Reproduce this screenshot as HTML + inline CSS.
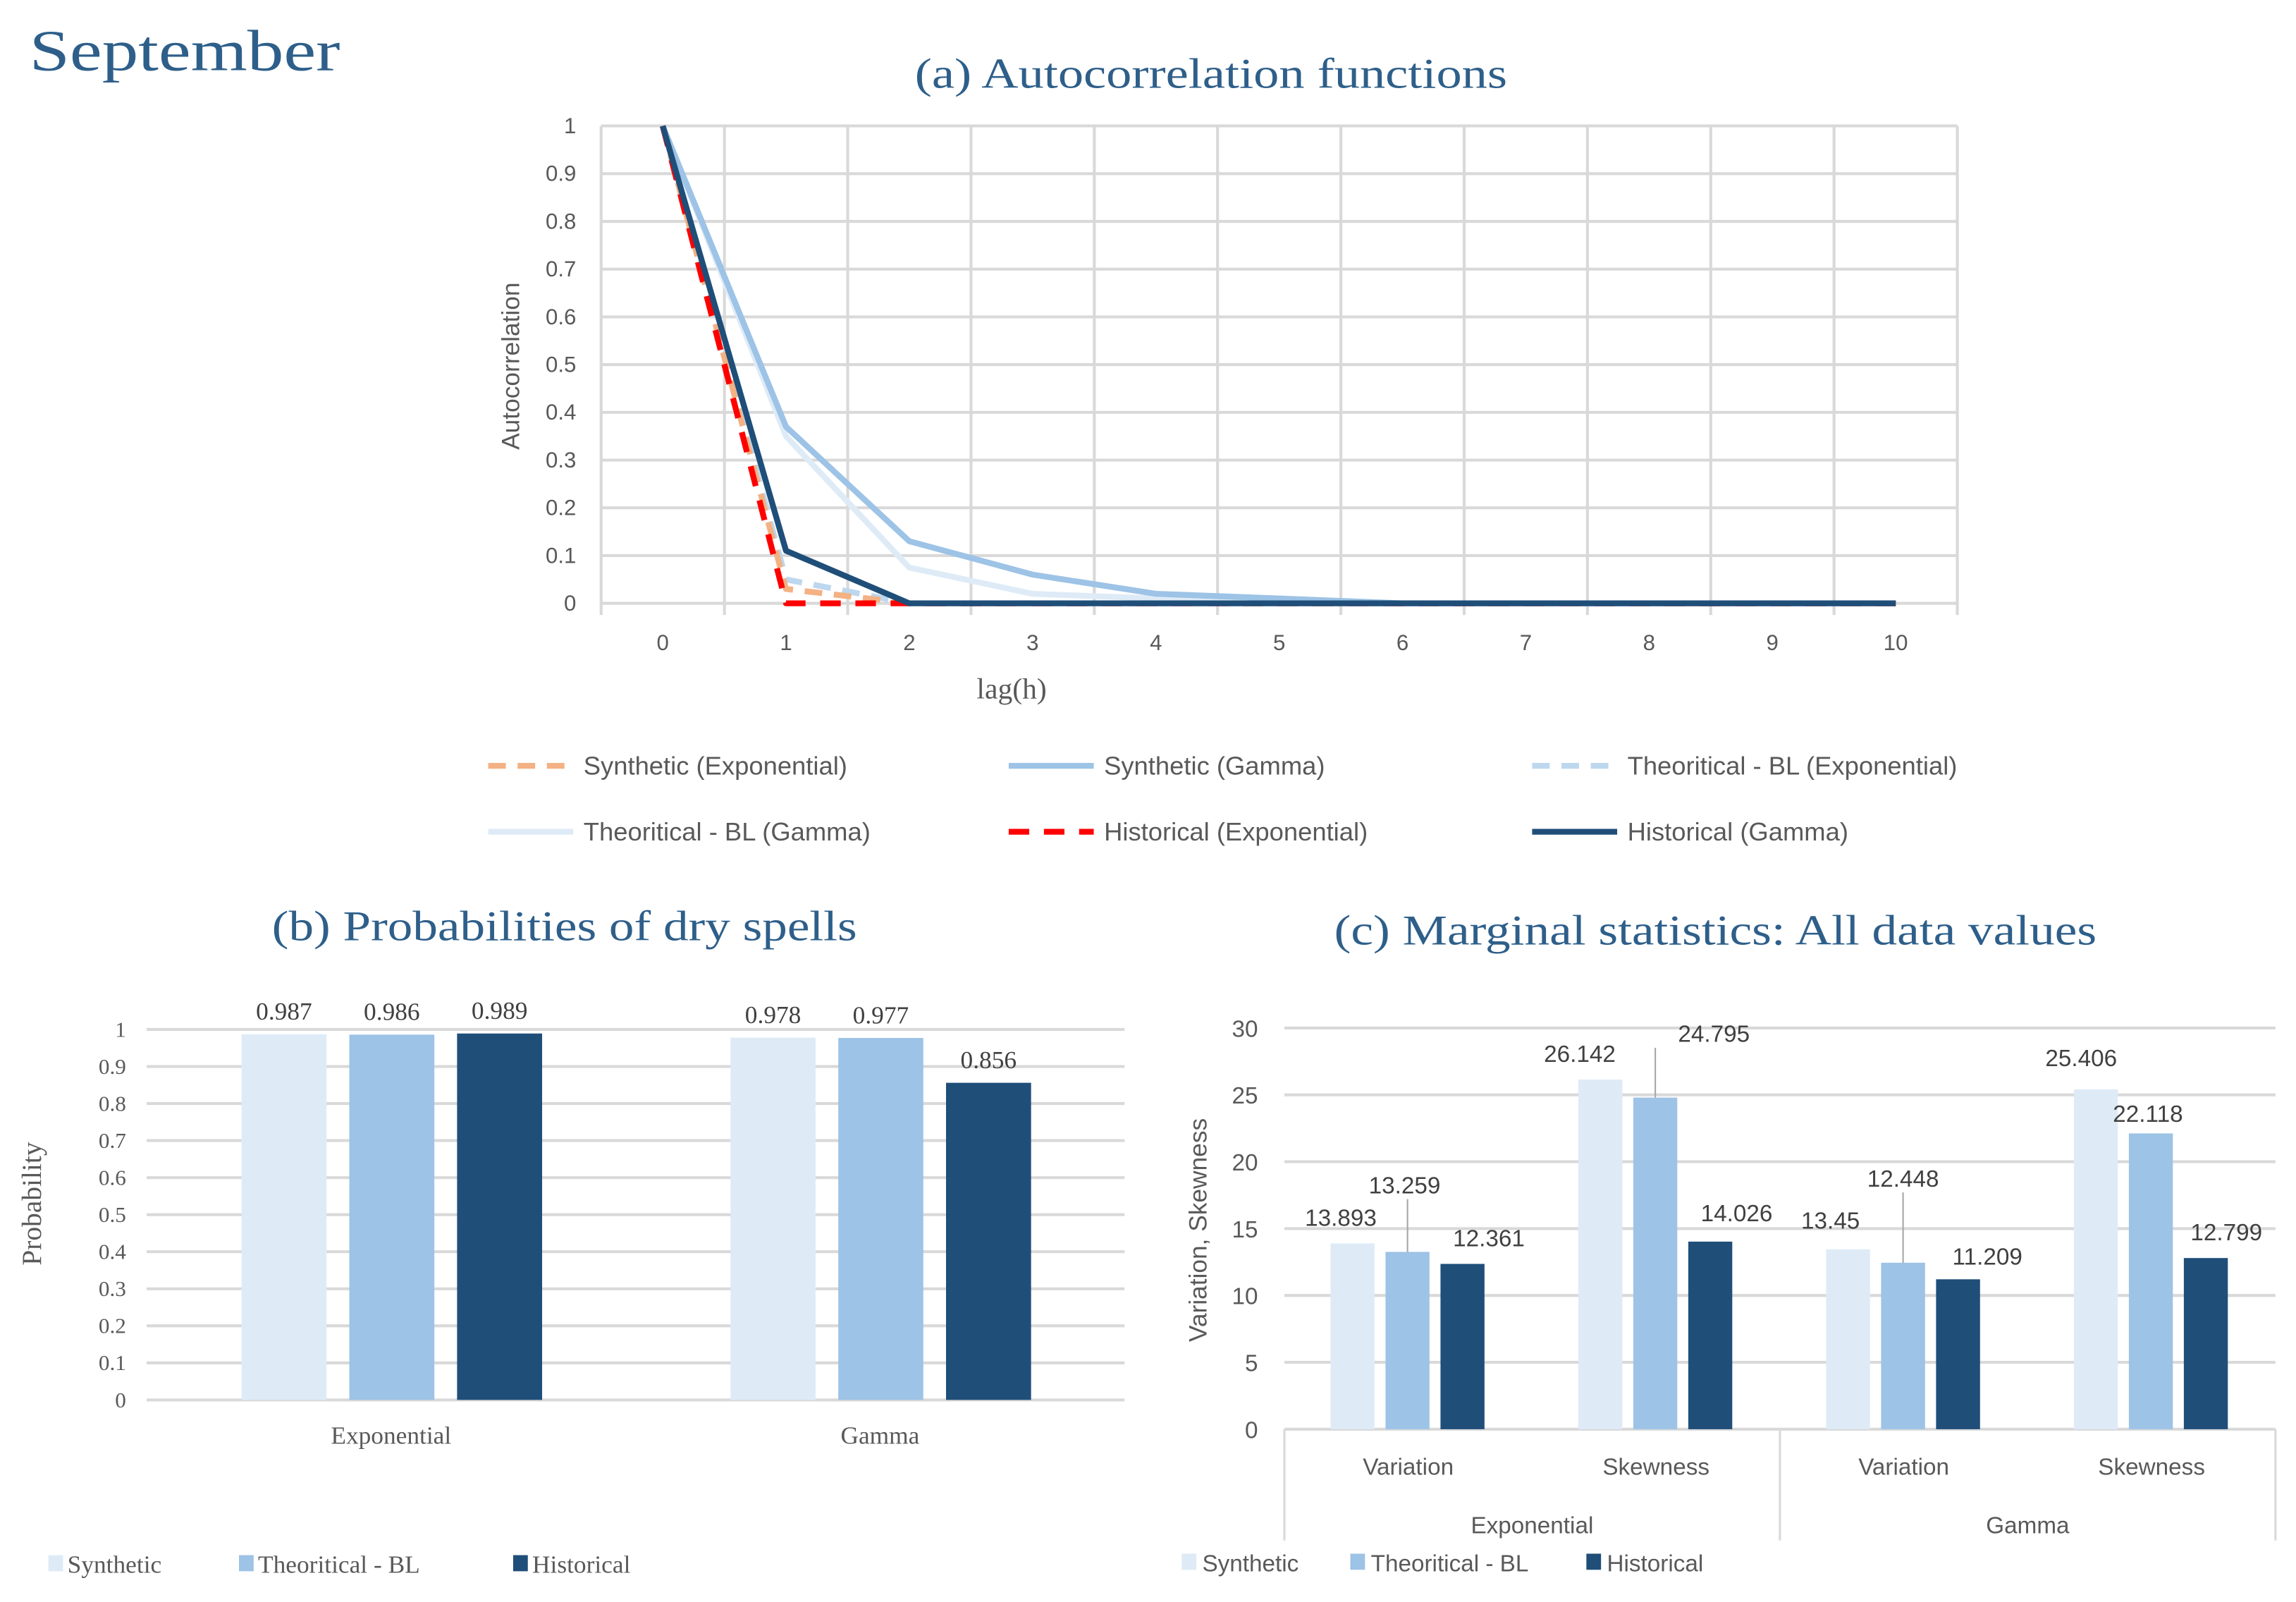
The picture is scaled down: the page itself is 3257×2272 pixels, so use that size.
<!DOCTYPE html>
<html><head><meta charset="utf-8">
<style>
html,body{margin:0;padding:0;background:#fff;}
svg{display:block;}
</style></head>
<body>
<svg id="fig" width="3257" height="2272" viewBox="0 0 1566 1094" preserveAspectRatio="none" xmlns="http://www.w3.org/2000/svg">
<text x="20" y="48" font-family="Liberation Serif, serif" font-size="40" fill="#2e5f8a" textLength="212" lengthAdjust="spacingAndGlyphs">September</text>
<g id="ca"></g>
<g id="cb"></g>
<g id="cc"></g>
</svg>
<script>
// ---------- Chart (a) data ----------
const lags = [0,1,2,3,4,5,6,7,8,9,10];
const acYTicks = [0,0.1,0.2,0.3,0.4,0.5,0.6,0.7,0.8,0.9,1];
const synExp = [1,0.03,0,0,0,0,0,0,0,0,0];
const synGam = [1,0.37,0.13,0.06,0.02,0.01,0,0,0,0,0];
const thExp  = [1,0.05,0,0,0,0,0,0,0,0,0];
const thGam  = [1,0.35,0.075,0.02,0.01,0,0,0,0,0,0];
const hisExp = [1,0,0,0,0,0,0,0,0,0,0];
const hisGam = [1,0.11,0,0,0,0,0,0,0,0,0];
// ---------- Chart (b) data ----------
const probCats = ["Exponential","Gamma"];
const probSyn = [0.987,0.978];
const probTh  = [0.986,0.977];
const probHis = [0.989,0.856];
const probTicks = [0,0.1,0.2,0.3,0.4,0.5,0.6,0.7,0.8,0.9,1];
// ---------- Chart (c) data ----------
const statCats = ["Variation","Skewness","Variation","Skewness"];
const statGroups = ["Exponential","Gamma"];
const statSyn = [13.893,26.142,13.45,25.406];
const statTh  = [13.259,24.795,12.448,22.118];
const statHis = [12.361,14.026,11.209,12.799];
const statTicks = [0,5,10,15,20,25,30];

const NS="http://www.w3.org/2000/svg";
function mk(parent,tag,attrs,text){const e=document.createElementNS(NS,tag);for(const k in attrs)e.setAttribute(k,attrs[k]);if(text!==undefined)e.textContent=text;parent.appendChild(e);return e;}
const SANS="Liberation Sans, sans-serif", SERIF="Liberation Serif, serif";
const TITLE="#2e5f8a", GREY="#595959", GRID="#d9d9d9";

// ================= Chart A =================
(function(){
const g=document.getElementById('ca');
const L=410,R=1335,T=86,B=412;
const step=(R-L)/lags.length;
const xS=i=>L+step*(i+0.5);
const yS=v=>B-(B-T)*v;
let t=mk(g,'text',{x:826,y:60,'text-anchor':'middle','font-family':SERIF,'font-size':29,fill:TITLE,textLength:404,lengthAdjust:'spacingAndGlyphs'},'(a) Autocorrelation functions');

acYTicks.forEach(v=>{
  const l=mk(g,'line',{x1:L,x2:R,y1:yS(v),y2:yS(v),stroke:GRID,'stroke-width':2});
  
  const tx=mk(g,'text',{x:393,y:yS(v)+5,'text-anchor':'end','font-family':SANS,'font-size':15,fill:GREY},String(v));
  
});
for(let i=0;i<=lags.length;i++){
  const l=mk(g,'line',{x1:L+step*i,x2:L+step*i,y1:T,y2:B+8,stroke:GRID,'stroke-width':2});
  
}
lags.forEach((h,i)=>{
  const tx=mk(g,'text',{x:xS(i),y:444,'text-anchor':'middle','font-family':SANS,'font-size':15,fill:GREY},String(h));
  
});
t=mk(g,'text',{x:690,y:477,'text-anchor':'middle','font-family':SERIF,'font-size':20,fill:GREY},'lag(h)');

t=mk(g,'text',{x:0,y:0,transform:'translate(354,250) rotate(-90)','text-anchor':'middle','font-family':SANS,'font-size':17,fill:GREY},'Autocorrelation');

const series=[
 {d:thGam,c:'#deebf7',w:4,dash:'',n:'Theoritical - BL (Gamma)'},
 {d:synGam,c:'#9dc3e6',w:4,dash:'',n:'Synthetic (Gamma)'},
 {d:thExp,c:'#bdd7ee',w:4,dash:'12 8',n:'Theoritical - BL (Exponential)'},
 {d:synExp,c:'#f4b183',w:4,dash:'12 8',n:'Synthetic (Exponential)'},
 {d:hisExp,c:'#ff0000',w:4,dash:'14 10',n:'Historical (Exponential)'},
 {d:hisGam,c:'#1f4e79',w:4,dash:'',n:'Historical (Gamma)'}];
series.forEach(s=>{
  const pts=s.d.map((v,i)=>xS(i).toFixed(1)+','+yS(v).toFixed(1)).join(' ');
  const p=mk(g,'polyline',{points:pts,fill:'none',stroke:s.c,'stroke-width':s.w,'stroke-dasharray':s.dash,'stroke-linejoin':'round'});
  
  
});
const leg=[
 {c:'#f4b183',dash:'12 8',n:'Synthetic (Exponential)',x:333,y:523},
 {c:'#9dc3e6',dash:'',n:'Synthetic (Gamma)',x:688,y:523},
 {c:'#bdd7ee',dash:'12 8',n:'Theoritical - BL (Exponential)',x:1045,y:523},
 {c:'#deebf7',dash:'',n:'Theoritical - BL (Gamma)',x:333,y:568},
 {c:'#ff0000',dash:'14 10',n:'Historical (Exponential)',x:688,y:568},
 {c:'#1f4e79',dash:'',n:'Historical (Gamma)',x:1045,y:568}];
leg.forEach(e=>{
  const gg=mk(g,'g',{});
  
  mk(gg,'line',{x1:e.x,x2:e.x+58,y1:e.y,y2:e.y,stroke:e.c,'stroke-width':4,'stroke-dasharray':e.dash});
  mk(gg,'text',{x:e.x+65,y:e.y+6,'font-family':SANS,'font-size':17.5,fill:GREY},e.n);
});
})();

// ================= Chart B =================
(function(){
const g=document.getElementById('cb');
const L=100,R=767,T=703,B=956;
const yS=v=>B-(B-T)*v;
const catW=(R-L)/probCats.length;
const cx=i=>L+catW*(i+0.5);
let t=mk(g,'text',{x:385,y:642,'text-anchor':'middle','font-family':SERIF,'font-size':29,fill:TITLE,textLength:399,lengthAdjust:'spacingAndGlyphs'},'(b) Probabilities of dry spells');

probTicks.forEach(v=>{
  const l=mk(g,'line',{x1:L,x2:R,y1:yS(v),y2:yS(v),stroke:GRID,'stroke-width':2});
  
  const tx=mk(g,'text',{x:86,y:yS(v)+5,'text-anchor':'end','font-family':SERIF,'font-size':15,fill:GREY},String(v));
  
});
t=mk(g,'text',{x:0,y:0,transform:'translate(28,822) rotate(-90)','text-anchor':'middle','font-family':SERIF,'font-size':19,fill:GREY},'Probability');

const sers=[{d:probSyn,c:'#deebf7',n:'synthetic'},{d:probTh,c:'#9dc3e6',n:'theoretical'},{d:probHis,c:'#1f4e79',n:'historical'}];
probCats.forEach((cat,i)=>{
  sers.forEach((s,j)=>{
    const x=cx(i)-102+j*73.5, w=58;
    const r=mk(g,'rect',{x:x,y:yS(s.d[i]),width:w,height:B-yS(s.d[i]),fill:s.c});
    
    const tx=mk(g,'text',{x:x+w/2,y:yS(s.d[i])-10,'text-anchor':'middle','font-family':SERIF,'font-size':17,fill:'#404040'},String(s.d[i]));
    
  });
  const tx=mk(g,'text',{x:cx(i),y:986,'text-anchor':'middle','font-family':SERIF,'font-size':17,fill:GREY},cat);
  
});
const leg=[{c:'#deebf7',n:'Synthetic',x:33},{c:'#9dc3e6',n:'Theoritical - BL',x:163},{c:'#1f4e79',n:'Historical',x:350}];
leg.forEach(e=>{
  const gg=mk(g,'g',{});
  
  mk(gg,'rect',{x:e.x,y:1062,width:10,height:11,fill:e.c});
  mk(gg,'text',{x:e.x+13,y:1074,'font-family':SERIF,'font-size':17,fill:GREY},e.n);
});
})();

// ================= Chart C =================
(function(){
const g=document.getElementById('cc');
const L=876,R=1552,T=702,B=976;
const yS=v=>B-(B-T)*v/30;
const catW=(R-L)/statCats.length;
const cx=i=>L+catW*(i+0.5);
let t=mk(g,'text',{x:1170,y:645,'text-anchor':'middle','font-family':SERIF,'font-size':29,fill:TITLE,textLength:520,lengthAdjust:'spacingAndGlyphs'},'(c) Marginal statistics: All data values');

statTicks.forEach(v=>{
  const l=mk(g,'line',{x1:L,x2:R,y1:yS(v),y2:yS(v),stroke:GRID,'stroke-width':2});
  
  const tx=mk(g,'text',{x:858,y:yS(v)+6,'text-anchor':'end','font-family':SANS,'font-size':16,fill:GREY},String(v));
  
});
t=mk(g,'text',{x:0,y:0,transform:'translate(823,840) rotate(-90)','text-anchor':'middle','font-family':SANS,'font-size':17,fill:GREY},'Variation, Skewness');

[0,2,4].forEach(k=>{
  const l=mk(g,'line',{x1:L+catW*k,x2:L+catW*k,y1:B,y2:1052,stroke:GRID,'stroke-width':1.5});
  
});
const sers=[{d:statSyn,c:'#deebf7',n:'synthetic'},{d:statTh,c:'#9dc3e6',n:'theoretical'},{d:statHis,c:'#1f4e79',n:'historical'}];
// label nudges (style only): [dx,dy]
const nudge=[[[-8,-12],[-2,-40],[18,-12]],[[-14,-12],[40,-38],[18,-14]],[[-12,-14],[0,-52],[20,-10]],[[-10,-16],[-2,-8],[14,-12]]];
statCats.forEach((cat,i)=>{
  sers.forEach((s,j)=>{
    const w=30, x=cx(i)-53+j*37.5;
    const top=yS(s.d[i]);
    const r=mk(g,'rect',{x:x,y:top,width:w,height:B-top,fill:s.c});
    
    const nd=nudge[i][j];
    if(j===1 && i!==3){
      const ln=mk(g,'line',{x1:x+w/2,x2:x+w/2,y1:top,y2:top+nd[1]+4,stroke:'#a6a6a6','stroke-width':1});
      
    }
    const tx=mk(g,'text',{x:x+w/2+nd[0],y:top+nd[1],'text-anchor':'middle','font-family':SANS,'font-size':16,fill:'#404040'},String(s.d[i]));
    
  });
  const tx=mk(g,'text',{x:cx(i),y:1007,'text-anchor':'middle','font-family':SANS,'font-size':16,fill:GREY},cat);
  
});
statGroups.forEach((gr,k)=>{
  const tx=mk(g,'text',{x:L+catW*(2*k+1),y:1047,'text-anchor':'middle','font-family':SANS,'font-size':16,fill:GREY},gr);
  
});
const leg=[{c:'#deebf7',n:'Synthetic',x:806},{c:'#9dc3e6',n:'Theoritical - BL',x:921},{c:'#1f4e79',n:'Historical',x:1082}];
leg.forEach(e=>{
  const gg=mk(g,'g',{});
  
  mk(gg,'rect',{x:e.x,y:1061,width:10,height:11,fill:e.c});
  mk(gg,'text',{x:e.x+14,y:1073,'font-family':SANS,'font-size':16,fill:GREY},e.n);
});
})();
</script>
</body></html>
